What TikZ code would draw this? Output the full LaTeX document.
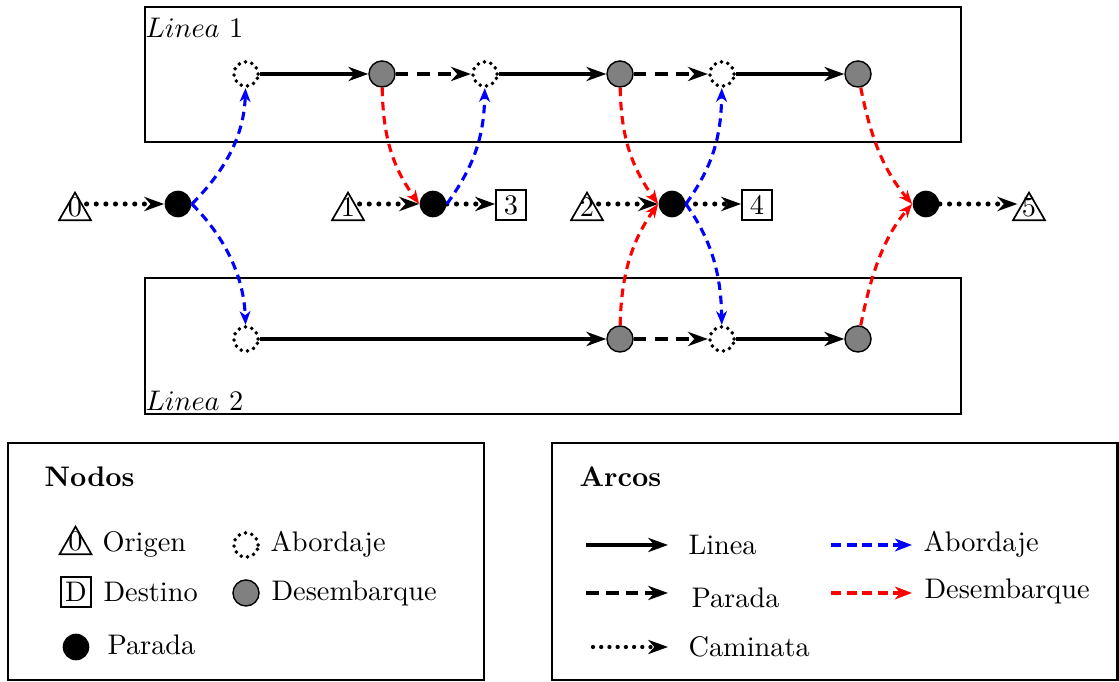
\documentclass[tikz,border=0pt]{standalone}
\usetikzlibrary{arrows.meta,shapes.geometric}
\begin{document}
\begin{tikzpicture}[x=0.353pt,y=-0.353pt,
  tip/.style={-{Stealth[length=7pt,width=5pt,inset=2.2pt]}},
  smalltip/.style={-{Stealth[length=4.8pt,width=3.8pt,inset=1.4pt]}},
  frame/.style={line width=0.8pt},
  board/.style={circle,draw,minimum size=8.6pt,inner sep=0pt,line width=1.4pt,line cap=round,dash pattern=on 0pt off 2.3pt},
  alight/.style={circle,draw,fill=gray,line width=0.5pt,minimum size=9.2pt,inner sep=0pt},
  stopn/.style={circle,fill=black,minimum size=9.4pt,inner sep=0pt},
  orig/.style={regular polygon,regular polygon sides=3,draw,line width=0.6pt,minimum size=13pt,inner sep=0pt},
  digit/.style={label={[inner sep=0pt,yshift=1.4pt]center:#1}},
  dest/.style={rectangle,draw,line width=0.6pt,minimum size=10.6pt,inner sep=0pt},
  linea/.style={tip,line width=1.1pt},
  lineab/.style={tip,line width=1.4pt},
  parada/.style={tip,line width=1.1pt,dash pattern=on 4.5pt off 3pt},
  walk/.style={tip,line width=1.8pt,line cap=round,dash pattern=on 0pt off 3.4pt},
  abord/.style={smalltip,blue,line width=1.1pt,dash pattern=on 3pt off 2pt},
  desemb/.style={smalltip,red,line width=1.1pt,dash pattern=on 3pt off 2pt},
  txt/.style={anchor=base west,inner sep=0pt}
]
\useasboundingbox (0,0) rectangle (1119,682);

% line frames
\draw[frame] (145,7) rectangle (961,142);
\draw[frame] (145,278) rectangle (961,414);
\node[txt] (lab1) at (145,38) {$Linea$ 1};
\node[txt] (lab2) at (145,411) {$Linea$ 2};

% top row
\node[board]  (a1) at (246,74) {};
\node[alight] (g1) at (382,74) {};
\node[board]  (a2) at (485,74) {};
\node[alight] (g2) at (620,74) {};
\node[board]  (a3) at (722,74) {};
\node[alight] (g3) at (858,74) {};
% bottom row
\node[board]  (c1) at (246,339) {};
\node[alight] (h1) at (620,339) {};
\node[board]  (c3) at (722,339) {};
\node[alight] (h2) at (858,339) {};
% middle row
\node[orig,digit=0] (t0) at (75,211) {};
\node[stopn] (b0) at (178,204) {};
\node[orig,digit=1] (t1) at (348,211) {};
\node[stopn] (b1) at (433,204) {};
\node[dest] (s3) at (511,205) {3};
\node[orig,digit=2] (t2) at (587,211) {};
\node[stopn] (b2) at (672,204) {};
\node[dest] (s4) at (757,205) {4};
\node[stopn] (b3) at (926,204) {};
\node[orig,digit=5] (t5) at (1029,211) {};

% line arcs
\draw[linea] (a1) -- (g1);
\draw[parada] (g1) -- (a2);
\draw[linea] (a2) -- (g2);
\draw[parada] (g2) -- (a3);
\draw[linea] (a3) -- (g3);
\draw[lineab] (c1) -- (h1);
\draw[parada] (h1) -- (c3);
\draw[linea] (c3) -- (h2);

% walking arcs
\draw[walk] (t0.east |- b0) -- (b0);
\draw[walk] (t1.east |- b1) -- (b1);
\draw[walk] (b1) -- (b1 -| s3.west);
\draw[walk] (t2.east |- b2) -- (b2);
\draw[walk] (b2) -- (b2 -| s4.west);
\draw[walk] (b3) -- (b3 -| t5.west);

% boarding arcs
\draw[abord] (b0.east) .. controls +(35,-35) and +(-2,60) .. (a1);
\draw[abord] (b0.east) .. controls +(35,35) and +(-2,-60) .. (c1);
\draw[abord] (b1.east) .. controls +(25,-35) and +(-1,66) .. (a2);
\draw[abord] (b2.east) .. controls +(25,-35) and +(-1,66) .. (a3);
\draw[abord] (b2.east) .. controls +(25,35) and +(-1,-66) .. (c3);

% alighting arcs
\draw[desemb] (g1) .. controls +(1,66) and +(-25,-35) .. (b1.west);
\draw[desemb] (g2) .. controls +(1,66) and +(-25,-35) .. (b2.west);
\draw[desemb] (h1) .. controls +(1,-66) and +(-25,35) .. (b2.west);
\draw[desemb] (g3) .. controls +(12,60) and +(-30,-35) .. (b3.west);
\draw[desemb] (h2) .. controls +(12,-60) and +(-30,35) .. (b3.west);

% legend: nodes
\draw[frame] (8,443) rectangle (484,680);
\node[txt] (ln) at (44,487) {\textbf{Nodos}};
\node[orig,digit=0] (lt) at (75.5,545) {};
\node[txt] (lto) at (102,552) {Origen};
\node[board] (lb) at (246,545) {};
\node[txt] (lbo) at (270,552) {Abordaje};
\node[dest] (ld) at (76,592) {D};
\node[txt] (ldo) at (103,602) {Destino};
\node[alight] (lg) at (246,593) {};
\node[txt] (lgo) at (271,601) {Desembarque};
\node[stopn] (lp) at (76,647) {};
\node[txt] (lpo) at (107,655) {Parada};

% legend: arcs
\draw[frame] (552,443) rectangle (1117.5,680);
\node[txt] (la) at (579,487) {\textbf{Arcos}};
\coordinate (k1s) at (586,545); \coordinate (k1e) at (668,545);
\coordinate (k2s) at (586,593); \coordinate (k2e) at (668,593);
\coordinate (k3s) at (593,647); \coordinate (k3e) at (668,647);
\coordinate (k4s) at (831,545); \coordinate (k4e) at (912,545);
\coordinate (k5s) at (831,593); \coordinate (k5e) at (912,593);
\draw[lineab] (k1s) -- (k1e);
\node[txt] (k1t) at (688,555) {Linea};
\draw[tip,line width=1.4pt,dash pattern=on 4.5pt off 2.5pt] (k2s) -- (k2e);
\node[txt] (k2t) at (691,608) {Parada};
\draw[walk,line width=1.5pt,dash pattern=on 0pt off 2.9pt] (k3s) -- (k3e);
\node[txt] (k3t) at (688,657) {Caminata};
\draw[abord,-{Stealth[length=6pt,width=4.5pt,inset=1.8pt]},dash pattern=on 3.5pt off 2pt] (k4s) -- (k4e);
\node[txt] (k4t) at (923,552) {Abordaje};
\draw[desemb,-{Stealth[length=6pt,width=4.5pt,inset=1.8pt]},dash pattern=on 3.5pt off 2pt] (k5s) -- (k5e);
\node[txt] (k5t) at (924,599) {Desembarque};
\end{tikzpicture}
\end{document}
